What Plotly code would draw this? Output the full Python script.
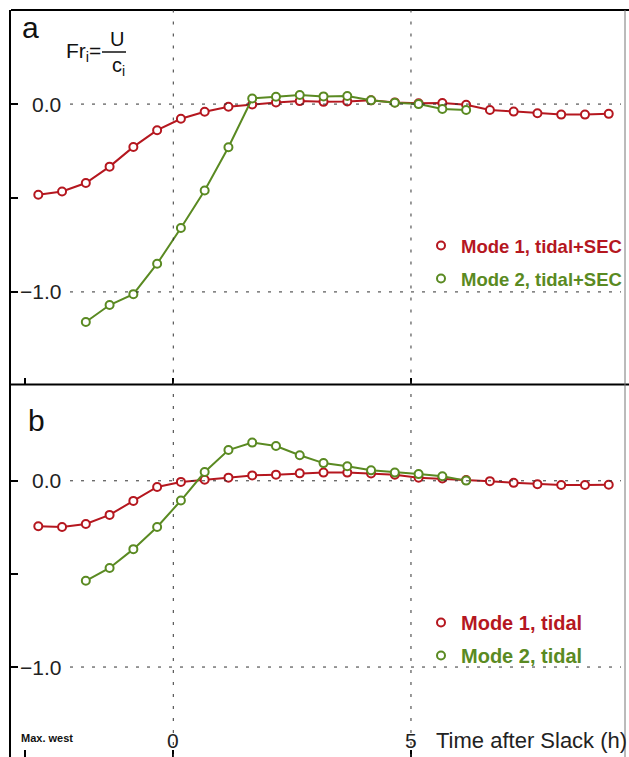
import plotly.graph_objects as go

# ---------------- data ----------------
time_h = [-2.84, -2.34, -1.84, -1.34, -0.84, -0.34, 0.16, 0.66, 1.16, 1.66,
          2.16, 2.66, 3.16, 3.66, 4.16, 4.66, 5.16, 5.66, 6.16, 6.66,
          7.16, 7.66, 8.16, 8.66, 9.16]
time_h_mode2 = time_h[2:19]

fr_mode1_tidal_sec = [-0.483, -0.465, -0.42, -0.333, -0.228, -0.139, -0.078, -0.041,
                      -0.014, -0.002, 0.009, 0.016, 0.012, 0.014, 0.02, 0.009, 0.004,
                      0.006, -0.004, -0.031, -0.04, -0.049, -0.056, -0.056, -0.052]
fr_mode2_tidal_sec = [-1.16, -1.07, -1.012, -0.85, -0.66, -0.46, -0.23, 0.03, 0.039,
                      0.048, 0.041, 0.043, 0.02, 0.007, 0.0, -0.026, -0.031]

fr_mode1_tidal = [-0.244, -0.248, -0.232, -0.183, -0.108, -0.033, -0.006, 0.006, 0.017,
                  0.029, 0.033, 0.04, 0.044, 0.044, 0.039, 0.033, 0.017, 0.012, 0.004,
                  -0.002, -0.011, -0.018, -0.023, -0.023, -0.021]
fr_mode2_tidal = [-0.537, -0.468, -0.367, -0.248, -0.106, 0.047, 0.165, 0.205, 0.187,
                  0.137, 0.095, 0.078, 0.056, 0.044, 0.036, 0.024, 0.001]

series_names_a = ["Mode 1, tidal+SEC", "Mode 2, tidal+SEC"]
series_names_b = ["Mode 1, tidal", "Mode 2, tidal"]

x_tick_vals = [-3.12, 0, 5]
x_tick_text = ["Max. west", "0", "5"]
x_title = "Time after Slack (h)"
y_tick_vals = [0.0, -0.5, -1.0]
y_label_vals = [0.0, -1.0]
y_label_text = ["0.0", "\u22121.0"]
panel_labels = ["a", "b"]

# ---------------- style ----------------
RED = "#b5171f"
GREEN = "#5a8a22"
W, H = 629, 757
ML, MR = 11, 4
PW = W - ML - MR
FONT = "Liberation Sans, Arial, sans-serif"


def px_x(px):
    return (px - ML) / PW


def px_y(py):
    return (H - py) / H


sep = px_y(384.5)
top = px_y(10)

fig = go.Figure()


def add_series(x, y, color, name, xa, ya, leg, grp):
    fig.add_trace(go.Scatter(x=x, y=y, mode="lines", line=dict(color=color, width=2),
                             xaxis=xa, yaxis=ya, showlegend=False, hoverinfo="skip"))
    fig.add_trace(go.Scatter(x=x, y=y, mode="markers",
                             name=f"<span style='color:{color}'>{name}</span>",
                             marker=dict(symbol="circle", size=8, color="white",
                                         line=dict(color=color, width=2)),
                             xaxis=xa, yaxis=ya, legend=leg, legendgroup=grp, showlegend=True))


add_series(time_h, fr_mode1_tidal_sec, RED, series_names_a[0], "x", "y", "legend", "a1")
add_series(time_h_mode2, fr_mode2_tidal_sec, GREEN, series_names_a[1], "x", "y", "legend", "a2")
add_series(time_h, fr_mode1_tidal, RED, series_names_b[0], "x2", "y2", "legend2", "b1")
add_series(time_h_mode2, fr_mode2_tidal, GREEN, series_names_b[1], "x2", "y2", "legend2", "b2")

xr = [-3.414, 9.502]
common_x = dict(range=xr, tickvals=x_tick_vals, ticks="inside", ticklen=7, tickwidth=2,
                tickcolor="black", showticklabels=False, showgrid=False, zeroline=False)
common_y = dict(tickvals=y_tick_vals, ticks="inside", ticklen=7, tickwidth=2,
                tickcolor="black", showticklabels=False, showgrid=False, zeroline=False,
                showline=True, linecolor="black", linewidth=2)

shapes = []
annotations = []
# borders
shapes.append(dict(type="line", xref="paper", yref="paper", x0=0, x1=1.01, y0=top, y1=top,
                   line=dict(color="black", width=2)))
shapes.append(dict(type="line", xref="paper", yref="paper", x0=0, x1=1.01, y0=sep, y1=sep,
                   line=dict(color="black", width=2)))
shapes.append(dict(type="line", xref="paper", yref="paper", x0=1, x1=1, y0=0, y1=top,
                   line=dict(color="#777", width=1)))
for ya, xa in (("y", "x"), ("y2", "x2")):
    for v in (0, 5):
        shapes.append(dict(type="line", xref=xa, yref=ya + " domain", x0=v, x1=v, y0=0, y1=1,
                           line=dict(color="#333", width=1, dash="3px,9px")))
    for v in y_label_vals:
        shapes.append(dict(type="line", xref="paper", yref=ya, x0=px_x(70), x1=px_x(621),
                           y0=v, y1=v, line=dict(color="#333", width=1, dash="3px,8px")))
    for v, t in zip(y_label_vals, y_label_text):
        annotations.append(dict(xref="paper", yref=ya, x=px_x(63), y=v, text=t,
                                xanchor="right", yanchor="middle", showarrow=False,
                                font=dict(family=FONT, size=21, color="#222")))

# panel letters
annotations.append(dict(xref="paper", yref="paper", x=px_x(20), y=px_y(27), text=panel_labels[0],
                        xanchor="left", yanchor="middle", showarrow=False,
                        font=dict(family=FONT, size=30, color="#111")))
annotations.append(dict(xref="paper", yref="paper", x=px_x(26), y=px_y(420), text=panel_labels[1],
                        xanchor="left", yanchor="middle", showarrow=False,
                        font=dict(family=FONT, size=30, color="#111")))
# formula
annotations.append(dict(xref="paper", yref="paper", x=px_x(64), y=px_y(52), text="Fr<sub>i</sub>=",
                        xanchor="left", yanchor="middle", showarrow=False,
                        font=dict(family=FONT, size=21, color="#111")))
annotations.append(dict(xref="paper", yref="paper", x=px_x(117), y=px_y(39), text="U",
                        xanchor="center", yanchor="middle", showarrow=False,
                        font=dict(family=FONT, size=20, color="#111")))
annotations.append(dict(xref="paper", yref="paper", x=px_x(118), y=px_y(66), text="c<sub>i</sub>",
                        xanchor="center", yanchor="middle", showarrow=False,
                        font=dict(family=FONT, size=20, color="#111")))
shapes.append(dict(type="line", xref="paper", yref="paper", x0=px_x(102), x1=px_x(126),
                   y0=px_y(52), y1=px_y(52), line=dict(color="#111", width=1.5)))

# bottom tick labels
annotations.append(dict(xref="x2", yref="paper", x=x_tick_vals[0], y=px_y(738),
                        text=x_tick_text[0],
                        xanchor="left", xshift=-6, yanchor="middle", showarrow=False,
                        font=dict(family=FONT, size=11, color="#111", weight="bold")))
for v, t in zip(x_tick_vals[1:], x_tick_text[1:]):
    annotations.append(dict(xref="x2", yref="paper", x=v, y=px_y(740), text=t,
                            xanchor="center", yanchor="middle", showarrow=False,
                            font=dict(family=FONT, size=21, color="#222")))
annotations.append(dict(xref="paper", yref="paper", x=px_x(434), y=px_y(740), text=x_title,
                        xanchor="left", yanchor="middle", showarrow=False,
                        font=dict(family=FONT, size=22, color="#222")))

fig.update_layout(
    width=W, height=H,
    margin=dict(l=ML, r=MR, t=0, b=0),
    paper_bgcolor="white", plot_bgcolor="white",
    xaxis=dict(**common_x, domain=[0, 1], anchor="y"),
    yaxis=dict(**common_y, domain=[sep, top], range=[-1.493, 0.501], anchor="x"),
    xaxis2=dict(**common_x, domain=[0, 1], anchor="y2"),
    yaxis2=dict(**common_y, domain=[0, sep], range=[-1.483, 0.517], anchor="x2"),
    shapes=shapes,
    annotations=annotations,
    legend=dict(x=px_x(421), y=px_y(227), xanchor="left", yanchor="top",
                bgcolor="rgba(0,0,0,0)", traceorder="grouped", tracegroupgap=6,
                font=dict(family=FONT, size=18.5, weight="bold"), itemwidth=30),
    legend2=dict(x=px_x(421), y=px_y(603), xanchor="left", yanchor="top",
                 bgcolor="rgba(0,0,0,0)", traceorder="grouped", tracegroupgap=4,
                 font=dict(family=FONT, size=20, weight="bold"), itemwidth=30),
    showlegend=True,
)

fig.write_html("out.html")
